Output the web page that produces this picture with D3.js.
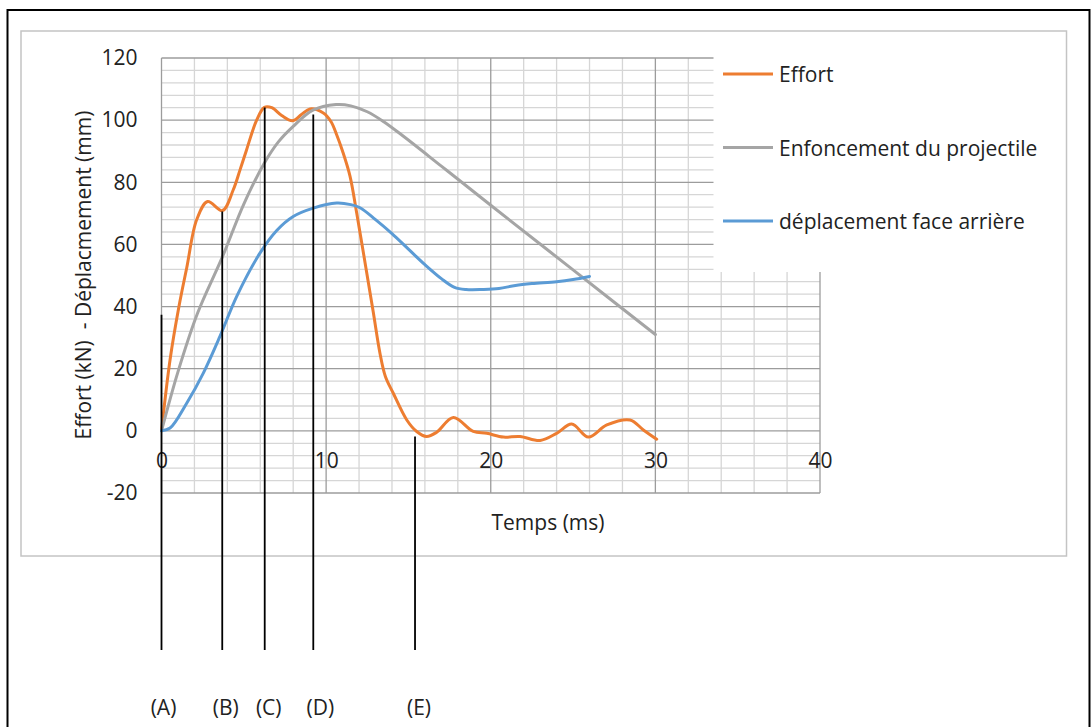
<!DOCTYPE html>
<html>
<head>
<meta charset="utf-8">
<script src="https://cdn.jsdelivr.net/npm/d3@7"></script>
<style>
  html, body { margin: 0; padding: 0; background: #fff; }
  svg { display: block; }
  text { font-family: "Open Sans", "Liberation Sans", sans-serif; fill: #222; white-space: pre; }
</style>
</head>
<body>
<svg id="chart" width="1092" height="727"></svg>
<script>
// ---- Data ----
const effortTime = [0, 0.52, 1.06, 1.53, 2.14, 2.8, 3.7, 4.36, 4.77, 5.17, 5.78, 6.25, 6.7, 7.3, 7.95, 8.5, 9.02, 9.83, 10.3, 10.64, 11.0, 11.45, 11.86, 12.4, 12.87, 13.27, 13.6, 14.08, 14.9, 15.5, 16.1, 16.7, 17.73, 18.94, 19.76, 20.77, 21.78, 23, 24, 24.92, 25.93, 27.05, 28.46, 29.27, 30.08];
const effortValues = [0, 22.9, 40, 52.4, 68, 73.8, 70.9, 77.6, 84, 90.5, 100, 104.1, 104, 101.5, 99.8, 101.8, 103.6, 102.3, 99.5, 95.3, 90, 82, 70, 53, 38, 25, 17.5, 12.1, 3.5, -0.2, -1.8, -0.5, 4.3, -0.2, -0.8, -2, -1.8, -3.1, -0.8, 2.2, -2, 1.9, 3.5, 0.3, -2.7];

const enfTime = [0, 1, 2.2, 3.7, 5, 6.25, 7.1, 8, 9.2, 10.6, 11.5, 12.5, 13.5, 14.5, 17, 20, 25, 30];
const enfValues = [0, 19, 38, 56, 73, 86.2, 93, 98, 103.2, 105, 104.6, 102.7, 99.5, 95.6, 85.2, 72.6, 51.8, 31];

const dispTime = [0, 0.52, 1.53, 2.54, 3.55, 4.57, 5.98, 7, 8, 9.22, 10.64, 11.5, 12.06, 13, 14, 15, 16, 17, 17.8, 18.5, 19.5, 20.5, 21.5, 22.5, 24, 25, 26];
const dispValues = [0, 0.9, 8.9, 18.6, 30.4, 43.3, 57.2, 64.5, 69, 71.7, 73.3, 72.8, 71.8, 68, 63.5, 58.5, 53.5, 49, 46.2, 45.5, 45.5, 45.8, 46.8, 47.4, 48, 48.7, 49.7];

const seriesNames = ["Effort", "Enfoncement du projectile", "déplacement face arrière"];
const seriesColors = ["#ED7D31", "#A5A5A5", "#5B9BD5"];

const xTickValues = [0, 10, 20, 30, 40];
const yTickValues = [-20, 0, 20, 40, 60, 80, 100, 120];

// Phase markers: time position, top value, label, label shift
const markerTimes = [0, 3.69, 6.27, 9.22, 15.4];
const markerTops = [37.4, 70.6, 104.1, 101.8, -1.8];
const markerLabels = ["(A)", "(B)", "(C)", "(D)", "(E)"];
const markerLabelShift = [2, 3.5, 4, 7, 4];

// ---- Layout ----
const svg = d3.select("#chart");
const x = d3.scaleLinear().domain([0, 40]).range([161.5, 820]);
const y = d3.scaleLinear().domain([-20, 120]).range([493, 58]);
const FS = 21;

// outer black border
svg.append("rect").attr("x", 7.5).attr("y", 10).attr("width", 1082).attr("height", 740)
  .attr("fill", "none").attr("stroke", "#000").attr("stroke-width", 2);

// chart frame
svg.append("rect").attr("x", 21).attr("y", 31).attr("width", 1045.5).attr("height", 525)
  .attr("fill", "#fff").attr("stroke", "#c4c4c4").attr("stroke-width", 1.5);

// ---- Grid ----
const grid = svg.append("g");
const minorX = d3.range(0, 40.001, 2);
const minorY = d3.range(-20, 120.001, 4);
grid.selectAll("line.mx").data(minorX.filter(v => v % 10 !== 0)).join("line")
  .attr("x1", d => x(d)).attr("x2", d => x(d)).attr("y1", y(120)).attr("y2", y(-20))
  .attr("stroke", "#d6d6d6").attr("stroke-width", 1.3);
grid.selectAll("line.my").data(minorY.filter(v => v % 20 !== 0)).join("line")
  .attr("x1", x(0)).attr("x2", x(40)).attr("y1", d => y(d)).attr("y2", d => y(d))
  .attr("stroke", "#d6d6d6").attr("stroke-width", 1.3);
grid.selectAll("line.Mx").data(xTickValues).join("line")
  .attr("x1", d => x(d)).attr("x2", d => x(d)).attr("y1", y(120)).attr("y2", y(-20))
  .attr("stroke", "#9c9c9c").attr("stroke-width", 1.3);
grid.selectAll("line.My").data(yTickValues).join("line")
  .attr("x1", x(0)).attr("x2", x(40)).attr("y1", d => y(d)).attr("y2", d => y(d))
  .attr("stroke", "#9c9c9c").attr("stroke-width", 1.3);

// legend background covering the grid
svg.append("rect").attr("x", 713.5).attr("y", 40).attr("width", 340).attr("height", 232).attr("fill", "#fff");

// ---- Axis labels (via D3 axes, domain hidden) ----
const yAxis = svg.append("g").attr("transform", `translate(${x(0) - 24},0)`)
  .call(d3.axisLeft(y).tickValues(yTickValues).tickFormat(d => String(d)).tickSize(0).tickPadding(0));
yAxis.select(".domain").remove();
yAxis.selectAll("text").attr("font-size", FS).attr("fill", "#222")
  .style("font-family", "'Open Sans', sans-serif");

const xAxis = svg.append("g").attr("transform", `translate(0,${y(0) + 30})`)
  .call(d3.axisBottom(x).tickValues(xTickValues).tickFormat(d => String(d)).tickSize(0).tickPadding(0));
xAxis.select(".domain").remove();
xAxis.selectAll("text").attr("font-size", FS).attr("fill", "#222").attr("dy", "0.32em")
  .style("font-family", "'Open Sans', sans-serif");

svg.append("text").attr("x", 548).attr("y", 522).attr("text-anchor", "middle")
  .attr("dominant-baseline", "central").attr("font-size", FS).text("Temps (ms)");
svg.append("text").attr("transform", "translate(83,275) rotate(-90)").attr("text-anchor", "middle")
  .attr("dominant-baseline", "central").attr("font-size", FS).text("Effort (kN)  - Déplacmement (mm)");

// ---- Series lines ----
const line = d3.line().x(d => x(d[0])).y(d => y(d[1])).curve(d3.curveCatmullRom.alpha(0.5));
const seriesData = [
  d3.zip(effortTime, effortValues),
  d3.zip(enfTime, enfValues),
  d3.zip(dispTime, dispValues)
];
seriesData.forEach((pts, i) => {
  svg.append("path").datum(pts).attr("d", line).attr("fill", "none")
    .attr("stroke", seriesColors[i]).attr("stroke-width", 3).attr("stroke-linejoin", "round").attr("stroke-linecap", "round");
});

// ---- Phase markers ----
svg.selectAll("line.marker").data(markerTimes).join("line")
  .attr("x1", d => x(d)).attr("x2", d => x(d))
  .attr("y1", (d, i) => y(markerTops[i])).attr("y2", 650)
  .attr("stroke", "#000").attr("stroke-width", 1.8);
svg.selectAll("text.mlabel").data(markerLabels).join("text")
  .attr("x", (d, i) => x(markerTimes[i]) + markerLabelShift[i]).attr("y", 707).attr("text-anchor", "middle")
  .attr("dominant-baseline", "central").attr("font-size", FS).text(d => d);

// ---- Legend ----
const legendY = [74, 147.5, 221];
seriesNames.forEach((name, i) => {
  svg.append("line").attr("x1", 723).attr("x2", 773).attr("y1", legendY[i]).attr("y2", legendY[i])
    .attr("stroke", seriesColors[i]).attr("stroke-width", 3);
  svg.append("text").attr("x", 779).attr("y", legendY[i]).attr("dominant-baseline", "central")
    .attr("font-size", FS).text(name);
});
</script>
</body>
</html>
